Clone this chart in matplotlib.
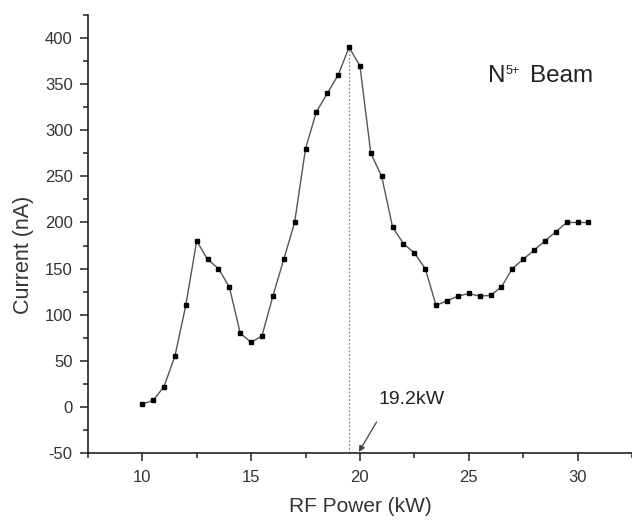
import matplotlib
matplotlib.use("Agg")
import matplotlib.pyplot as plt
from matplotlib.ticker import MultipleLocator

plt.rcParams['font.family'] = ['Liberation Sans', 'DejaVu Sans']
plt.rcParams['axes.unicode_minus'] = False

rf_power = [10, 10.5, 11, 11.5, 12, 12.5, 13, 13.5, 14, 14.5, 15, 15.5, 16, 16.5,
            17, 17.5, 18, 18.5, 19, 19.5, 20, 20.5, 21, 21.5, 22, 22.5, 23, 23.5,
            24, 24.5, 25, 25.5, 26, 26.5, 27, 27.5, 28, 28.5, 29, 29.5, 30, 30.5]
current = [3, 7, 22, 55, 110, 180, 160, 150, 130, 80, 70, 77, 120, 160,
           200, 280, 320, 340, 360, 390, 370, 275, 250, 195, 177, 167, 150, 110,
           115, 120, 123, 120, 121, 130, 150, 160, 170, 180, 190, 200, 200, 200]
peak_label = "19.2kW"
ion_label = "N"
charge_label = "5+"
beam_word = "Beam"

fig = plt.figure(figsize=(6.32, 5.2), dpi=100)
ax = fig.add_axes([0.139, 0.129, 0.861, 0.842])

ax.plot(rf_power, current, color='#555555', lw=1.0, marker='s', ms=3.5,
        mfc='black', mec='black', zorder=3)

ipk = current.index(max(current))
ax.plot([rf_power[ipk], rf_power[ipk]], [-50, current[ipk]], color='#888888',
        lw=0.9, ls=(0, (1.5, 1.5)), zorder=2)

ax.annotate(peak_label, xy=(19.95, -49), xytext=(22.35, 7.5),
            ha='center', va='center', fontsize=14, color='#222222',
            arrowprops=dict(arrowstyle='-|>', color='#444444', lw=0.9,
                            relpos=(0.1, 0.0), shrinkA=9, shrinkB=0,
                            mutation_scale=9))

tN = ax.text(0.735, 0.862, ion_label, transform=ax.transAxes, ha='left', va='center',
             fontsize=17.5, color='#222222')
ax.annotate(charge_label, xy=(1, 1), xycoords=tN, xytext=(0.3, 0),
            textcoords='offset points', ha='left', va='top',
            fontsize=9, color='#222222')
ax.annotate(beam_word, xy=(1, 0.5), xycoords=tN, xytext=(18, 0),
            textcoords='offset points', ha='left', va='center',
            fontsize=17.5, color='#222222')

ax.set_xlim(7.5, 32.5)
ax.set_ylim(-50, 425)
ax.xaxis.set_major_locator(MultipleLocator(5))
ax.xaxis.set_minor_locator(MultipleLocator(2.5))
ax.yaxis.set_major_locator(MultipleLocator(50))
ax.yaxis.set_minor_locator(MultipleLocator(25))
ax.spines['top'].set_visible(False)
ax.spines['right'].set_visible(False)
for s in ('left', 'bottom'):
    ax.spines[s].set_linewidth(1.2)
    ax.spines[s].set_color('#222222')
ax.tick_params(which='major', direction='out', length=6, width=1.1, colors='#222222',
               labelsize=12, labelcolor='#333333')
ax.tick_params(axis='x', which='major', pad=6)
ax.tick_params(axis='y', which='major', pad=5)
ax.tick_params(which='minor', direction='out', length=3.5, width=1.1, colors='#222222')
ax.set_xlabel("RF Power (kW)", fontsize=15, color='#333333', labelpad=9)
ax.set_ylabel("Current (nA)", fontsize=15.5, color='#333333')
ax.yaxis.set_label_coords(-0.099, 0.452)

fig.savefig("out.png", dpi=100)
